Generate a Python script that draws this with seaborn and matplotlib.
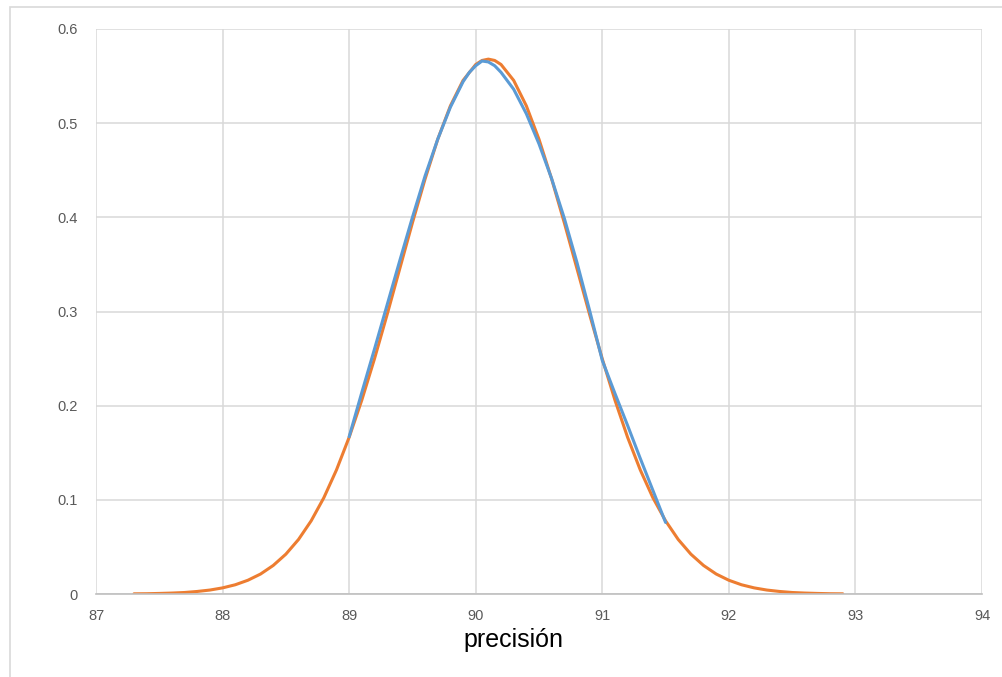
import numpy as np
import pandas as pd
import matplotlib
matplotlib.use("Agg")
import matplotlib.pyplot as plt
import seaborn as sns
from matplotlib.patches import Rectangle

# orange curve
x_orange = [87.3, 87.4, 87.5, 87.6, 87.7, 87.8, 87.9, 88.0, 88.1, 88.2,
            88.3, 88.4, 88.5, 88.6, 88.7, 88.8, 88.9, 89.0, 89.1, 89.2,
            89.3, 89.4, 89.5, 89.6, 89.7, 89.8, 89.9, 90.0, 90.05, 90.1, 90.15, 90.2,
            90.3, 90.4, 90.5, 90.6, 90.7, 90.8, 90.9, 91.0, 91.1, 91.2,
            91.3, 91.4, 91.5, 91.6, 91.7, 91.8, 91.9, 92.0, 92.1, 92.2,
            92.3, 92.4, 92.5, 92.6, 92.7, 92.8, 92.9]
y_orange = [0.0002, 0.0003, 0.0006, 0.0010, 0.0016, 0.0027, 0.0042, 0.0065, 0.0098, 0.0146,
            0.0212, 0.0303, 0.0423, 0.0579, 0.0777, 0.1022, 0.1318, 0.1664, 0.2059, 0.2497,
            0.2967, 0.3455, 0.3942, 0.4407, 0.4829, 0.5184, 0.5454, 0.5623, 0.5666, 0.5680, 0.5666, 0.5623,
            0.5454, 0.5184, 0.4829, 0.4407, 0.3942, 0.3455, 0.2967, 0.2497, 0.2059, 0.1664,
            0.1318, 0.1022, 0.0777, 0.0579, 0.0423, 0.0303, 0.0212, 0.0146, 0.0098, 0.0065,
            0.0042, 0.0027, 0.0016, 0.0010, 0.0006, 0.0003, 0.0002]

# blue curve
x_blue = [89.0, 89.1, 89.2, 89.3, 89.4, 89.5, 89.6, 89.7, 89.8, 89.9, 89.95, 90.0, 90.05, 90.1,
          90.15, 90.2, 90.3, 90.4, 90.5, 90.6, 90.7, 90.8, 90.9, 91.0, 91.1, 91.2, 91.3, 91.4, 91.5]
y_blue = [0.167, 0.214, 0.260, 0.307, 0.354, 0.400, 0.444, 0.483, 0.517, 0.544, 0.554, 0.561, 0.566, 0.565,
          0.561, 0.554, 0.536, 0.510, 0.478, 0.441, 0.399, 0.352, 0.301, 0.248, 0.213, 0.179, 0.144, 0.110, 0.076]

x_ticks = [87, 88, 89, 90, 91, 92, 93, 94]
y_ticks = [0, 0.1, 0.2, 0.3, 0.4, 0.5, 0.6]
y_ticklabels = ["0", "0.1", "0.2", "0.3", "0.4", "0.5", "0.6"]

df_o = pd.DataFrame({"x": x_orange, "y": y_orange})
df_b = pd.DataFrame({"x": x_blue, "y": y_blue})

sns.set_style("whitegrid")
plt.rcParams["font.family"] = ["Liberation Sans", "DejaVu Sans"]

fig = plt.figure(figsize=(10.03, 6.77), dpi=100)
ax = fig.add_axes([96 / 1003, 1 - 594 / 677, (982 - 96) / 1003, (594 - 29) / 677])

sns.lineplot(data=df_o, x="x", y="y", color="#ED7D31", lw=2.2, ax=ax, sort=False)
sns.lineplot(data=df_b, x="x", y="y", color="#5B9BD5", lw=2.2, ax=ax, sort=False)

ax.set_xlim(87, 94)
ax.set_ylim(0, 0.6)
ax.set_xticks(x_ticks)
ax.set_yticks(y_ticks)
ax.set_yticklabels(y_ticklabels)
ax.grid(True, color="#D9D9D9", lw=1.1)
ax.tick_params(axis="both", length=0, labelsize=10.5, colors="#595959")
ax.tick_params(axis="x", pad=11)
ax.tick_params(axis="y", pad=13)
for s in ["top", "right", "left"]:
    ax.spines[s].set_visible(False)
ax.spines["bottom"].set_color("#BFBFBF")
ax.spines["bottom"].set_linewidth(1.2)
ax.set_xlabel("")
ax.set_ylabel("")

fig.text(513 / 1003, 1 - 640 / 677, "precisión", ha="center", va="center", fontsize=18, color="black")

fig.patches.append(Rectangle((10 / 1003, -0.1), 1.2, 1 - 7 / 677 + 0.1, transform=fig.transFigure,
                             fill=False, edgecolor="#D9D9D9", lw=1.2))

fig.savefig("out.png", dpi=100, facecolor="white")
